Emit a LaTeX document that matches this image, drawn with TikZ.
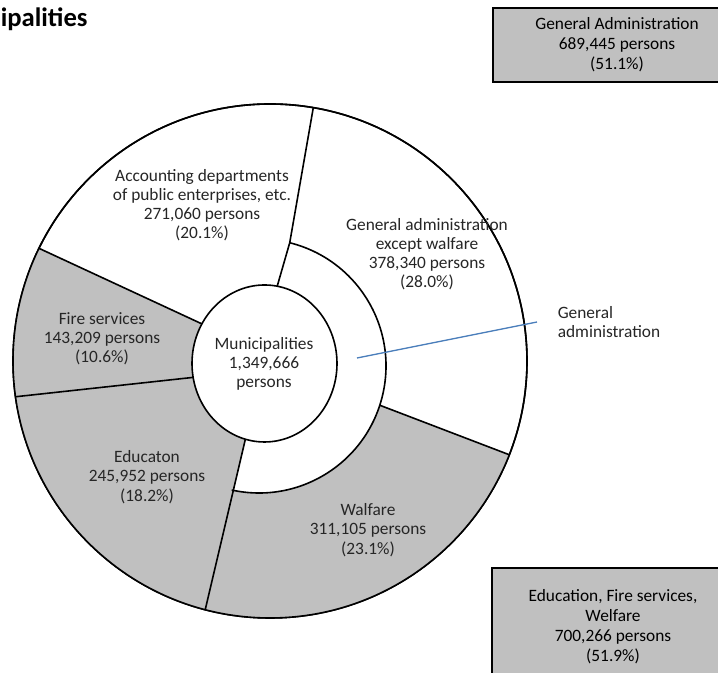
\documentclass[tikz,border=0pt]{standalone}
\usepackage{fontspec}
\setmainfont{Carlito}
\usepackage{tikz}
\tikzset{
every picture/.style={
line width=1.2pt
}}
\definecolor{sliceGray}{RGB}{192,192,192}
\definecolor{leaderBlue}{RGB}{74,126,187}

\begin{document}
\begin{tikzpicture}[x=0.75pt, y=0.75pt,
slice/.style = {fill=sliceGray},
lbl/.style = {align=center, text=black!85, font=\fontsize{13}{14.4}\selectfont},
sumbox/.style = {rectangle, draw=black, fill=sliceGray, line width=1.6pt, align=center, font=\fontsize{13}{15}\selectfont}]

\useasboundingbox (0,0) rectangle (718,673);

% centres: outer ring, middle ring, inner disc
\coordinate (O) at (270,312);
\coordinate (Q) at (259,307);
\coordinate (M) at (264.5,309.5);

\draw[fill=white] (O) circle (257);

% grey slices
\fill[slice] ([shift={(154:257)}]O) arc [start angle=154, end angle=188, radius=257]
  -- ([shift={(190.2:72.5 and 78.5)}]M) arc [start angle=190.2, end angle=149.7, x radius=72.5, y radius=78.5] -- cycle;
\fill[slice] ([shift={(188:257)}]O) arc [start angle=188, end angle=255.4, radius=257]
  -- ([shift={(254.7:72.5 and 78.5)}]M) arc [start angle=254.7, end angle=190.2, x radius=72.5, y radius=78.5] -- cycle;
\fill[slice] ([shift={(255.4:257)}]O) arc [start angle=255.4, end angle=338.6, radius=257]
  -- ([shift={(-18:127)}]Q) arc [start angle=342, end angle=257.6, radius=127] -- cycle;

% outlines
\draw (O) circle (257);
\draw ([shift={(80.3:257)}]O) -- ([shift={(76:127)}]Q) -- ([shift={(79.9:72.5 and 78.5)}]M);
\draw ([shift={(154:257)}]O) -- ([shift={(149.7:72.5 and 78.5)}]M);
\draw ([shift={(188:257)}]O) -- ([shift={(190.2:72.5 and 78.5)}]M);
\draw ([shift={(255.4:257)}]O) -- ([shift={(254.7:72.5 and 78.5)}]M);
\draw ([shift={(-21.4:257)}]O) -- ([shift={(-18:127)}]Q);
\draw ([shift={(-102.4:127)}]Q) arc [start angle=-102.4, end angle=76, radius=127];
\draw[fill=white] (M) ellipse [x radius=72.5, y radius=78.5];

% labels
\node[anchor=base west, inner sep=0pt, font=\fontsize{20}{24}\selectfont\bfseries] (title) at (0,646) {ipalities};
\node[lbl] (muni) at (264,309) {Municipalities\\1,349,666\\persons};
\node[lbl] (acct) at (202,468) {Accounting departments\\of public enterprises, etc.\\271,060 persons\\(20.1\%)};
\node[lbl] (gaexw) at (427,419) {General administration\\except walfare\\378,340 persons\\(28.0\%)};
\node[lbl] (fire) at (102,334) {Fire services\\143,209 persons\\(10.6\%)};
\node[lbl] (edu) at (147,196) {Educaton\\245,952 persons\\(18.2\%)};
\node[lbl] (walf) at (368,143) {Walfare\\311,105 persons\\(23.1\%)};

\node[sumbox, minimum width=186pt, minimum height=56pt] (gabox) at (617,628) {General Administration\\689,445 persons\\(51.1\%)};
\node[sumbox, minimum width=181pt, minimum height=88pt] (efwbox) at (613,46) {Education, Fire services,\\Welfare\\700,266 persons\\(51.9\%)};

% leader line
\node[lbl, anchor=west, align=left, inner xsep=15pt] (galabel) at (537,351) {General\\administration};
\coordinate (gapt) at (357,315);
\draw[leaderBlue, line width=1pt] (gapt) -- (galabel.west);
\end{tikzpicture}
\end{document}
